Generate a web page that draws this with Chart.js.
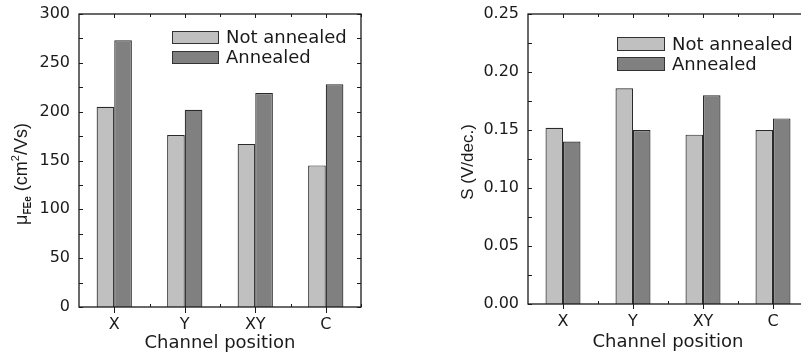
<!DOCTYPE html>
<html>
<head>
<meta charset="utf-8">
<script src="https://cdn.jsdelivr.net/npm/chart.js@4.4.1/dist/chart.umd.min.js"></script>
<style>
    html, body { margin: 0; padding: 0; background: #fff; overflow: hidden; }
    #wrap { position: relative; width: 801px; height: 353px; overflow: hidden; }
    #c1 { position: absolute; left: 0; top: 0; }
    #c2 { position: absolute; left: 400px; top: 0; }
</style>
</head>
<body>
<div id="wrap">
    <canvas id="c1" width="400" height="353"></canvas>
    <canvas id="c2" width="420" height="353"></canvas>
</div>
<script>
// ── data ──
const categories = ['X', 'Y', 'XY', 'C'];
const seriesNames = ['Not annealed', 'Annealed'];
const mobilityNotAnnealed = [205, 176, 167, 145];
const mobilityAnnealed = [273, 202, 219, 228];
const swingNotAnnealed = [0.152, 0.186, 0.146, 0.150];
const swingAnnealed = [0.140, 0.150, 0.180, 0.160];

const LIGHT = '#c0c0c0';
const DARK = '#808080';
const INK = '#1a1a1a';
const FONT = '"DejaVu Sans", sans-serif';
const VFONT = '"Liberation Sans", Arial, sans-serif';

// frame with inward ticks, like the origin plot
const framePlugin = {
    id: 'frame',
    afterDatasetsDraw(chart, args, opts) {
        const { ctx, chartArea: a, scales: { x, y } } = chart;
        ctx.save();
        ctx.strokeStyle = INK;
        ctx.lineWidth = 1.3;
        ctx.strokeRect(a.left, a.top, a.right - a.left, a.bottom - a.top);
        ctx.lineWidth = 1;
        ctx.beginPath();
        const n = Math.round((y.max - y.min) / opts.minor);
        for (let i = 0; i <= n; i++) {
            const py = Math.round(y.getPixelForValue(y.min + i * opts.minor)) + 0.5;
            ctx.moveTo(a.left, py); ctx.lineTo(a.left + 4, py);
            ctx.moveTo(a.right, py); ctx.lineTo(a.right - 4, py);
        }
        const step = x.getPixelForValue(1) - x.getPixelForValue(0);
        categories.forEach((c, i) => {
            const px = Math.round(x.getPixelForValue(i)) + 0.5;
            ctx.moveTo(px, a.bottom); ctx.lineTo(px, a.bottom + opts.outTick);
            ctx.moveTo(px, a.top); ctx.lineTo(px, a.top + 4);
            const bx = Math.round(x.getPixelForValue(i) + step / 2) + 0.5;
            ctx.moveTo(bx, a.bottom); ctx.lineTo(bx, a.bottom - 3);
            ctx.moveTo(bx, a.top); ctx.lineTo(bx, a.top + 3);
        });
        ctx.stroke();
        ctx.restore();
    }
};

const legendPlugin = {
    id: 'boxLegend',
    afterDraw(chart, args, opts) {
        const { ctx } = chart;
        ctx.save();
        ctx.font = '18px ' + FONT;
        ctx.textBaseline = 'middle';
        chart.data.datasets.forEach((ds, i) => {
            const top = opts.y + i * opts.gap;
            ctx.fillStyle = ds.backgroundColor;
            ctx.fillRect(opts.x, top, opts.w, opts.h);
            ctx.strokeStyle = '#333';
            ctx.lineWidth = 1;
            ctx.strokeRect(opts.x + 0.5, top + 0.5, opts.w - 1, opts.h - 1);
            ctx.fillStyle = INK;
            ctx.fillText(ds.label, opts.x + opts.w + 7, top + opts.h / 2 + 1);
        });
        ctx.restore();
    }
};

// rotated y title with sub / superscripts
const yTitlePlugin = {
    id: 'yTitle',
    afterDraw(chart, args, opts) {
        const { ctx } = chart;
        ctx.save();
        ctx.fillStyle = INK;
        ctx.textBaseline = 'alphabetic';
        let total = 0;
        opts.parts.forEach(p => {
            ctx.font = (p.bold ? 'bold ' : '') + p.size + 'px ' + VFONT;
            p.w = ctx.measureText(p.text).width;
            total += p.w;
        });
        ctx.translate(opts.x, opts.y);
        ctx.rotate(-Math.PI / 2);
        let cx = -total / 2;
        opts.parts.forEach(p => {
            ctx.font = (p.bold ? 'bold ' : '') + p.size + 'px ' + VFONT;
            ctx.fillText(p.text, cx, p.dy || 0);
            cx += p.w;
        });
        ctx.restore();
    }
};

function makeBar(id, values, opts) {
    const ctx = document.getElementById(id);
    return new Chart(ctx, {
        type: 'bar',
        data: {
            labels: categories,
            datasets: [{
                label: seriesNames[0],
                data: values[0],
                backgroundColor: LIGHT,
                borderColor: '#2a2a2a',
                borderWidth: 1.2,
            }, {
                label: seriesNames[1],
                data: values[1],
                backgroundColor: DARK,
                borderColor: '#2a2a2a',
                borderWidth: 1.2,
            }]
        },
        options: {
            responsive: false,
            animation: false,
            devicePixelRatio: 1,
            layout: {
                padding: opts.padding
            },
            datasets: {
                bar: {
                    categoryPercentage: 0.5,
                    barPercentage: 1.0
                }
            },
            plugins: {
                legend: { display: false },
                tooltip: { enabled: false },
                frame: { minor: opts.minor, outTick: opts.outTick },
                boxLegend: opts.legend,
                yTitle: opts.yTitle
            },
            scales: {
                x: {
                    grid: { display: false, drawTicks: false },
                    border: { display: false },
                    ticks: {
                        color: INK,
                        padding: 8,
                        font: { family: FONT, size: 16 }
                    },
                    title: {
                        display: true,
                        text: 'Channel position',
                        color: INK,
                        padding: { top: 0, bottom: opts.xTitlePad },
                        font: { family: FONT, size: 18 }
                    },
                    afterFit(s) { s.height = opts.xHeight; }
                },
                y: {
                    min: 0,
                    max: opts.max,
                    grid: { display: false, drawTicks: false },
                    border: { display: false },
                    ticks: {
                        stepSize: opts.step,
                        color: INK,
                        padding: 9,
                        font: { family: FONT, size: 16 },
                        callback: opts.fmt
                    },
                    afterFit(s) {
                        s.width = opts.yWidth;
                        s.paddingTop = 0;
                        s.paddingBottom = 0;
                    }
                }
            }
        },
        plugins: [framePlugin, legendPlugin, yTitlePlugin]
    });
}

makeBar('c1', [mobilityNotAnnealed, mobilityAnnealed], {
    padding: { top: 14, right: 39, bottom: 0, left: 0 },
    yWidth: 79,
    xHeight: 46,
    xTitlePad: -1,
    max: 300,
    step: 50,
    minor: 25,
    outTick: 6,
    fmt: v => v,
    legend: { x: 172, y: 31, w: 47, h: 13, gap: 20 },
    yTitle: {
        x: 27, y: 174,
        parts: [
            { text: 'μ', size: 18 },
            { text: 'FEe', size: 10, bold: true, dy: 4 },
            { text: ' (cm', size: 18 },
            { text: '2', size: 11, dy: -8 },
            { text: '/Vs)', size: 18 }
        ]
    }
});

makeBar('c2', [swingNotAnnealed, swingAnnealed], {
    padding: { top: 14, right: 12, bottom: 0, left: 0 },
    yWidth: 128,
    xHeight: 49,
    xTitlePad: 0,
    max: 0.25,
    step: 0.05,
    minor: 0.025,
    outTick: 5,
    fmt: v => Number(v).toFixed(2),
    legend: { x: 217, y: 37, w: 48, h: 14, gap: 20 },
    yTitle: {
        x: 73, y: 162,
        parts: [
            { text: 'S (V/dec.)', size: 17 }
        ]
    }
});
</script>
</body>
</html>
